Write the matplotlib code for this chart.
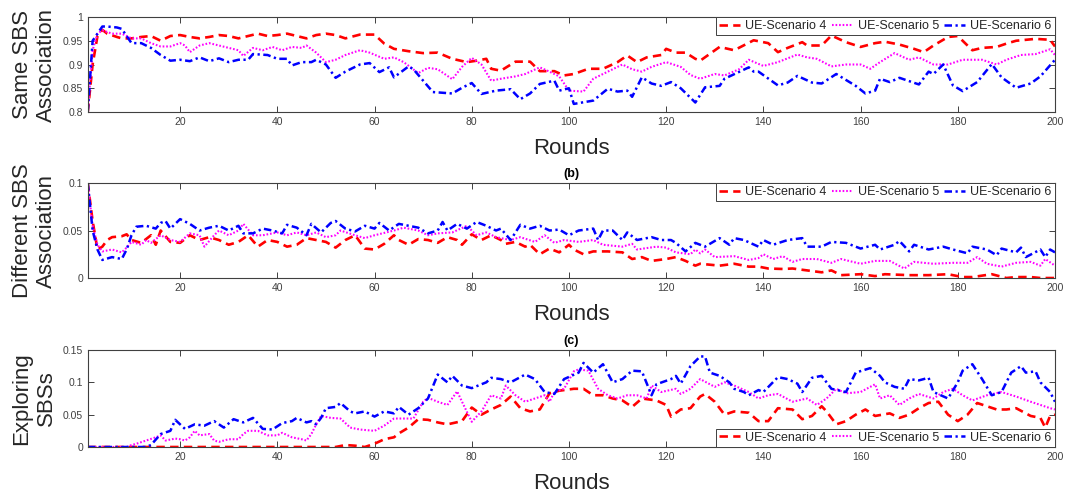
import matplotlib
matplotlib.use("Agg")
import matplotlib.pyplot as plt

plt.rcParams['font.family'] = ['Liberation Sans', 'DejaVu Sans']

# x axis rounds / labels
x_ticks = [20, 40, 60, 80, 100, 120, 140, 160, 180, 200]
series_names = ["UE-Scenario 4", "UE-Scenario 5", "UE-Scenario 6"]

# ---------------- panel (a): same SBS association ----------------
same_s4_x = [1, 2, 3, 4, 5, 7, 8, 10, 12, 14, 16, 18, 20, 22, 24, 26, 28, 30, 32, 34, 36, 38, 40, 42, 44, 46, 48, 50,
             52, 54, 57, 60, 62, 64, 67, 70, 73, 76, 79, 81, 83, 84, 86, 89, 92, 94, 97, 99, 101, 104, 107, 110, 112,
             114, 116, 119, 120, 122, 124, 126, 127, 131, 134, 138, 141, 143, 145, 148, 149, 152, 154, 157, 160, 163,
             165, 168, 171, 173, 175, 178, 180, 183, 185, 188, 190, 192, 196, 199, 200]
same_s4_y = [0.8, 0.9, 0.96, 0.973, 0.965, 0.958, 0.955, 0.955, 0.958, 0.96, 0.95, 0.96, 0.962, 0.958, 0.955, 0.958,
             0.962, 0.96, 0.955, 0.96, 0.965, 0.96, 0.962, 0.965, 0.96, 0.955, 0.962, 0.965, 0.962, 0.955, 0.963,
             0.963, 0.944, 0.933, 0.928, 0.924, 0.925, 0.912, 0.905, 0.908, 0.912, 0.891, 0.887, 0.906, 0.906, 0.886,
             0.886, 0.877, 0.88, 0.891, 0.891, 0.905, 0.919, 0.905, 0.915, 0.92, 0.933, 0.925, 0.925, 0.912, 0.908,
             0.937, 0.93, 0.951, 0.945, 0.926, 0.935, 0.947, 0.94, 0.94, 0.961, 0.947, 0.937, 0.945, 0.948, 0.942,
             0.933, 0.926, 0.94, 0.958, 0.96, 0.93, 0.935, 0.937, 0.944, 0.95, 0.954, 0.952, 0.938]

same_s5_x = [1, 2, 3, 4, 6, 8, 10, 12, 14, 16, 18, 20, 21, 22, 24, 26, 28, 30, 32, 33, 35, 37, 39, 41, 43, 45, 46, 48,
             50, 52, 54, 57, 59, 62, 64, 66, 69, 71, 73, 76, 78, 80, 82, 84, 86, 89, 91, 94, 96, 98, 100, 103, 105,
             107, 111, 113, 115, 117, 120, 123, 125, 127, 130, 132, 135, 137, 140, 143, 147, 149, 151, 154, 157, 160,
             162, 164, 167, 170, 172, 175, 178, 181, 185, 188, 190, 193, 196, 199, 200]
same_s5_y = [0.8, 0.93, 0.965, 0.972, 0.965, 0.965, 0.955, 0.955, 0.945, 0.938, 0.938, 0.945, 0.94, 0.926, 0.94,
             0.945, 0.94, 0.935, 0.93, 0.918, 0.935, 0.93, 0.937, 0.93, 0.937, 0.935, 0.94, 0.925, 0.905, 0.91, 0.92,
             0.93, 0.925, 0.912, 0.915, 0.905, 0.882, 0.893, 0.89, 0.869, 0.895, 0.914, 0.9, 0.866, 0.87, 0.875, 0.88,
             0.894, 0.885, 0.875, 0.845, 0.843, 0.87, 0.88, 0.9, 0.89, 0.885, 0.895, 0.905, 0.895, 0.878, 0.87, 0.88,
             0.877, 0.89, 0.91, 0.897, 0.905, 0.921, 0.915, 0.912, 0.896, 0.9, 0.9, 0.891, 0.905, 0.924, 0.91, 0.915,
             0.9, 0.9, 0.91, 0.91, 0.9, 0.91, 0.92, 0.922, 0.932, 0.92]

same_s6_x = [1, 2, 3, 4, 5, 7, 8, 9, 10, 12, 14, 16, 18, 20, 22, 24, 26, 28, 30, 32, 34, 35, 38, 40, 42, 43, 45, 47,
             48, 50, 52, 54, 57, 59, 61, 63, 64, 67, 68, 70, 72, 76, 78, 80, 82, 85, 88, 90, 92, 94, 97, 98, 100, 101,
             105, 108, 110, 112, 113, 115, 117, 119, 121, 123, 126, 128, 131, 132, 137, 138, 139, 143, 145, 147, 150,
             152, 155, 159, 161, 163, 164, 166, 168, 172, 174, 175, 177, 179, 181, 184, 187, 189, 192, 195, 197, 200]
same_s6_y = [0.8, 0.95, 0.965, 0.98, 0.98, 0.978, 0.975, 0.96, 0.945, 0.945, 0.935, 0.92, 0.908, 0.91, 0.907, 0.915,
             0.907, 0.913, 0.905, 0.91, 0.91, 0.922, 0.92, 0.912, 0.912, 0.898, 0.905, 0.905, 0.91, 0.9, 0.872, 0.885,
             0.9, 0.903, 0.884, 0.894, 0.873, 0.896, 0.89, 0.866, 0.842, 0.839, 0.851, 0.861, 0.838, 0.845, 0.848,
             0.827, 0.839, 0.859, 0.866, 0.845, 0.85, 0.817, 0.824, 0.849, 0.843, 0.845, 0.832, 0.873, 0.86, 0.855,
             0.863, 0.85, 0.82, 0.852, 0.855, 0.87, 0.894, 0.885, 0.885, 0.856, 0.862, 0.876, 0.862, 0.86, 0.88, 0.855,
             0.839, 0.845, 0.87, 0.863, 0.872, 0.858, 0.885, 0.88, 0.9, 0.856, 0.844, 0.863, 0.901, 0.873, 0.851,
             0.86, 0.875, 0.91]

# ---------------- panel (b): different SBS association ----------------
diff_s4_x = [1, 2, 3, 4, 5, 6, 8, 9, 10, 12, 14, 15, 16, 18, 20, 22, 24, 26, 28, 30, 32, 34, 36, 38, 40, 42, 44, 46,
             48, 50, 52, 54, 56, 58, 60, 62, 64, 65, 67, 69, 71, 73, 75, 77, 78, 80, 82, 84, 86, 87, 89, 91, 92, 94,
             96, 98, 100, 101, 103, 105, 108, 111, 113, 115, 117, 120, 122, 124, 126, 127, 131, 134, 137, 139, 141,
             144, 146, 149, 152, 154, 156, 160, 163, 165, 170, 174, 178, 181, 183, 187, 190, 192, 195, 197, 200]
diff_s4_y = [0.1, 0.06, 0.03, 0.033, 0.04, 0.043, 0.044, 0.046, 0.04, 0.037, 0.045, 0.035, 0.05, 0.038, 0.037, 0.045,
             0.04, 0.043, 0.04, 0.035, 0.038, 0.045, 0.033, 0.04, 0.038, 0.033, 0.035, 0.042, 0.04, 0.038, 0.032,
             0.04, 0.045, 0.031, 0.03, 0.036, 0.045, 0.04, 0.035, 0.041, 0.04, 0.037, 0.043, 0.04, 0.035, 0.046, 0.04,
             0.045, 0.04, 0.036, 0.038, 0.033, 0.035, 0.025, 0.031, 0.027, 0.035, 0.03, 0.025, 0.028, 0.028, 0.027,
             0.02, 0.022, 0.018, 0.02, 0.022, 0.018, 0.013, 0.015, 0.013, 0.015, 0.012, 0.012, 0.01, 0.0095, 0.01,
             0.008, 0.006, 0.008, 0.003, 0.004, 0.002, 0.004, 0.003, 0.003, 0.004, 0.001, 0.001, 0.004, 0.0, 0.001,
             0.001, 0.0, 0.0]

diff_s5_x = [1, 2, 3, 4, 6, 8, 9, 10, 12, 13, 14, 16, 18, 20, 22, 24, 25, 27, 28, 30, 32, 33, 35, 37, 40, 42, 44, 46,
             48, 50, 52, 53, 56, 58, 60, 64, 66, 69, 71, 73, 76, 79, 81, 83, 85, 88, 90, 93, 95, 97, 99, 102, 105, 107,
             111, 113, 114, 118, 120, 122, 125, 126, 127, 128, 130, 134, 137, 139, 140, 142, 144, 146, 148, 151, 154,
             156, 160, 163, 166, 169, 171, 175, 179, 182, 184, 186, 189, 192, 195, 197, 198, 200]
diff_s5_y = [0.1, 0.055, 0.035, 0.028, 0.03, 0.027, 0.032, 0.038, 0.035, 0.04, 0.037, 0.045, 0.04, 0.038, 0.047,
             0.045, 0.033, 0.045, 0.05, 0.045, 0.05, 0.057, 0.045, 0.045, 0.048, 0.045, 0.048, 0.045, 0.048, 0.043,
             0.045, 0.05, 0.045, 0.042, 0.045, 0.05, 0.053, 0.05, 0.045, 0.047, 0.048, 0.055, 0.045, 0.048, 0.043,
             0.04, 0.043, 0.038, 0.045, 0.037, 0.04, 0.038, 0.04, 0.035, 0.033, 0.036, 0.03, 0.033, 0.032, 0.027,
             0.025, 0.03, 0.026, 0.03, 0.022, 0.023, 0.019, 0.021, 0.025, 0.02, 0.023, 0.017, 0.02, 0.02, 0.016, 0.02,
             0.015, 0.018, 0.018, 0.01, 0.017, 0.015, 0.016, 0.016, 0.022, 0.015, 0.012, 0.016, 0.017, 0.013, 0.02,
             0.013]

diff_s6_x = [1, 2, 3, 4, 6, 8, 9, 10, 11, 13, 15, 16, 17, 18, 20, 22, 24, 26, 28, 30, 32, 33, 35, 37, 39, 41, 42, 44,
             46, 47, 49, 51, 52, 54, 56, 58, 60, 61, 63, 65, 67, 69, 71, 73, 74, 75, 77, 79, 81, 83, 85, 86, 88, 90,
             92, 94, 96, 98, 100, 102, 105, 106, 107, 109, 111, 112, 114, 117, 119, 121, 122, 124, 126, 128, 131, 133,
             134, 136, 139, 140, 142, 145, 148, 149, 152, 154, 157, 160, 163, 164, 167, 168, 170, 171, 174, 177, 179,
             182, 183, 186, 188, 189, 192, 193, 194, 197, 198, 199, 200]
diff_s6_y = [0.1, 0.05, 0.03, 0.019, 0.022, 0.02, 0.03, 0.045, 0.054, 0.055, 0.052, 0.058, 0.06, 0.052, 0.062, 0.057,
             0.05, 0.053, 0.055, 0.05, 0.055, 0.047, 0.047, 0.052, 0.05, 0.047, 0.056, 0.053, 0.045, 0.057, 0.048,
             0.058, 0.06, 0.052, 0.049, 0.055, 0.052, 0.058, 0.05, 0.057, 0.055, 0.053, 0.047, 0.05, 0.059, 0.05,
             0.057, 0.052, 0.059, 0.055, 0.05, 0.052, 0.04, 0.056, 0.052, 0.055, 0.05, 0.051, 0.045, 0.05, 0.052,
             0.04, 0.05, 0.05, 0.04, 0.048, 0.04, 0.043, 0.04, 0.04, 0.037, 0.028, 0.037, 0.033, 0.042, 0.035, 0.042,
             0.04, 0.033, 0.04, 0.035, 0.04, 0.042, 0.033, 0.033, 0.038, 0.037, 0.031, 0.035, 0.03, 0.035, 0.039,
             0.028, 0.035, 0.03, 0.033, 0.03, 0.026, 0.033, 0.03, 0.024, 0.031, 0.027, 0.032, 0.022, 0.03, 0.022,
             0.03, 0.027]

# ---------------- panel (c): exploring SBSs ----------------
expl_s4_x = [1, 10, 20, 30, 40, 50, 52, 54, 56, 58, 60, 62, 64, 65, 67, 69, 71, 73, 75, 78, 80, 82, 84, 86, 88, 90,
             92, 94, 96, 98, 101, 103, 105, 107, 109, 111, 113, 115, 118, 120, 121, 123, 125, 127, 128, 130, 132, 134,
             137, 139, 141, 143, 146, 148, 150, 152, 153, 155, 157, 159, 161, 163, 166, 168, 170, 172, 174, 176, 178,
             180, 182, 184, 186, 188, 190, 192, 195, 197, 198, 199, 200]
expl_s4_y = [0, 0, 0, 0, 0, 0, 0, 0.003, 0.002, 0, 0.005, 0.012, 0.015, 0.021, 0.03, 0.043, 0.042, 0.038, 0.035, 0.04,
             0.061, 0.05, 0.058, 0.065, 0.078, 0.06, 0.055, 0.058, 0.083, 0.087, 0.09, 0.09, 0.08, 0.08, 0.075, 0.072,
             0.062, 0.075, 0.072, 0.065, 0.047, 0.058, 0.06, 0.078, 0.082, 0.07, 0.05, 0.055, 0.053, 0.04, 0.04, 0.06,
             0.058, 0.043, 0.048, 0.063, 0.055, 0.035, 0.04, 0.05, 0.058, 0.048, 0.052, 0.045, 0.05, 0.06, 0.068,
             0.07, 0.05, 0.04, 0.05, 0.068, 0.063, 0.058, 0.058, 0.06, 0.048, 0.045, 0.03, 0.048, 0.05]

expl_s5_x = [1, 5, 9, 10, 11, 13, 15, 16, 17, 19, 20, 21, 22, 23, 24, 26, 27, 28, 30, 32, 33, 34, 36, 38, 40, 41, 43,
             45, 46, 47, 48, 49, 51, 53, 55, 57, 60, 62, 64, 66, 68, 70, 71, 73, 75, 77, 78, 80, 82, 84, 86, 87, 89,
             91, 93, 95, 96, 97, 99, 101, 102, 104, 106, 108, 110, 112, 114, 116, 117, 119, 122, 123, 125, 127, 130,
             132, 134, 137, 139, 141, 143, 146, 149, 151, 153, 155, 157, 160, 163, 164, 166, 168, 170, 172, 175, 177,
             179, 181, 183, 186, 189, 192, 195, 197, 199, 200]
expl_s5_y = [0, 0, 0, 0.003, 0.005, 0.01, 0.015, 0.018, 0.01, 0.013, 0.012, 0.01, 0.015, 0.025, 0.018, 0.02, 0.01,
             0.008, 0.012, 0.012, 0.02, 0.025, 0.025, 0.018, 0.018, 0.022, 0.015, 0.012, 0.01, 0.02, 0.035, 0.048,
             0.045, 0.044, 0.03, 0.027, 0.025, 0.033, 0.044, 0.044, 0.044, 0.07, 0.076, 0.07, 0.065, 0.086, 0.07,
             0.039, 0.055, 0.08, 0.075, 0.095, 0.08, 0.07, 0.075, 0.08, 0.07, 0.085, 0.09, 0.117, 0.12, 0.118, 0.09,
             0.08, 0.075, 0.08, 0.08, 0.075, 0.095, 0.085, 0.09, 0.082, 0.09, 0.105, 0.093, 0.1, 0.095, 0.085, 0.075,
             0.08, 0.082, 0.07, 0.075, 0.065, 0.075, 0.09, 0.083, 0.085, 0.097, 0.075, 0.08, 0.065, 0.075, 0.082,
             0.075, 0.085, 0.09, 0.08, 0.072, 0.08, 0.085, 0.078, 0.07, 0.065, 0.06, 0.058]

expl_s6_x = [1, 5, 9, 13, 14, 16, 18, 19, 21, 23, 25, 27, 29, 31, 33, 35, 37, 39, 41, 43, 44, 46, 47, 48, 49, 50, 52,
             53, 55, 56, 58, 60, 62, 64, 65, 67, 69, 71, 73, 75, 76, 78, 80, 83, 84, 86, 88, 91, 93, 95, 97, 99, 102,
             103, 105, 107, 109, 111, 113, 115, 117, 118, 121, 122, 123, 125, 127, 128, 129, 131, 133, 134, 136, 137,
             139, 140, 143, 145, 147, 148, 150, 152, 154, 157, 159, 162, 164, 165, 167, 169, 170, 172, 174, 175, 178,
             180, 181, 183, 185, 187, 189, 191, 193, 194, 196, 197, 199, 200]
expl_s6_y = [0, 0, 0, 0, 0.003, 0.02, 0.025, 0.042, 0.028, 0.035, 0.033, 0.04, 0.03, 0.043, 0.038, 0.045, 0.028,
             0.027, 0.037, 0.04, 0.045, 0.038, 0.04, 0.035, 0.045, 0.06, 0.062, 0.068, 0.055, 0.052, 0.055, 0.047,
             0.055, 0.052, 0.062, 0.05, 0.06, 0.075, 0.112, 0.1, 0.11, 0.095, 0.091, 0.1, 0.107, 0.105, 0.1, 0.112,
             0.105, 0.085, 0.082, 0.105, 0.115, 0.13, 0.115, 0.128, 0.1, 0.105, 0.118, 0.117, 0.08, 0.097, 0.105,
             0.11, 0.098, 0.125, 0.14, 0.14, 0.115, 0.11, 0.1, 0.09, 0.085, 0.08, 0.088, 0.085, 0.108, 0.105, 0.098,
             0.085, 0.107, 0.11, 0.09, 0.085, 0.115, 0.122, 0.11, 0.1, 0.093, 0.09, 0.105, 0.103, 0.107, 0.085, 0.075,
             0.1, 0.118, 0.128, 0.105, 0.08, 0.085, 0.115, 0.125, 0.115, 0.117, 0.1, 0.085, 0.07]

# line styles for scenarios 4, 5, 6 (MATLAB-like dashes)
colors = ['#ff0000', '#ff00ff', '#0000ff']
dashes = [(3.2, 2.0), (0.8, 0.9), (3.0, 1.4, 0.9, 1.4)]
widths = [1.9, 1.5, 1.8]

txt_col = '#262626'
tick_col = '#404040'

fig = plt.figure(figsize=(10.65, 4.96), dpi=100)
left, width = 0.0824, 0.9082
ax1 = fig.add_axes([left, 0.7742, width, 0.1915])
ax2 = fig.add_axes([left, 0.4395, width, 0.1915])
ax3 = fig.add_axes([left, 0.0988, width, 0.1956])

panels = [
    (ax1, [(same_s4_x, same_s4_y), (same_s5_x, same_s5_y), (same_s6_x, same_s6_y)],
     "Same SBS\nAssociation", (0.8, 1.0), [0.8, 0.85, 0.9, 0.95, 1.0], None, 'upper right'),
    (ax2, [(diff_s4_x, diff_s4_y), (diff_s5_x, diff_s5_y), (diff_s6_x, diff_s6_y)],
     "Different SBS\nAssociation", (0.0, 0.1), [0, 0.05, 0.1], "(b)", 'upper right'),
    (ax3, [(expl_s4_x, expl_s4_y), (expl_s5_x, expl_s5_y), (expl_s6_x, expl_s6_y)],
     "Exploring\nSBSs", (0.0, 0.15), [0, 0.05, 0.1, 0.15], "(c)", 'lower right'),
]

for ax, data, ylab, ylim, yticks, title, loc in panels:
    for (xs, ys), c, ds, lw, name in zip(data, colors, dashes, widths, series_names):
        ax.plot(xs, ys, color=c, linestyle=(0, ds), linewidth=lw, label=name)
    ax.set_xlim(1, 200)
    ax.set_ylim(*ylim)
    ax.set_xticks(x_ticks)
    ax.set_yticks(yticks)
    ax.set_yticklabels(['%g' % v for v in yticks])
    ax.tick_params(direction='in', top=True, right=True, length=4, width=0.7,
                   colors=tick_col, labelsize=7.5, labelcolor=tick_col)
    for sp in ax.spines.values():
        sp.set_color(tick_col)
        sp.set_linewidth(0.8)
    ax.set_ylabel(ylab, fontsize=16, color=txt_col, linespacing=1.2)
    ax.yaxis.set_label_coords(-0.032, 0.5)
    ax.set_xlabel("Rounds", fontsize=16, color=txt_col, labelpad=8)
    if title:
        ax.set_title(title, fontsize=9, fontweight='bold', color='black', pad=4)
    leg = ax.legend(loc=loc, ncol=3, fontsize=9, frameon=True, fancybox=False,
                    framealpha=1, edgecolor=tick_col, borderaxespad=0, borderpad=0.25,
                    handlelength=1.7, handletextpad=0.4, columnspacing=0.4)
    leg.get_frame().set_linewidth(0.7)
    for t in leg.get_texts():
        t.set_color(txt_col)

fig.savefig("out.png", dpi=100)
